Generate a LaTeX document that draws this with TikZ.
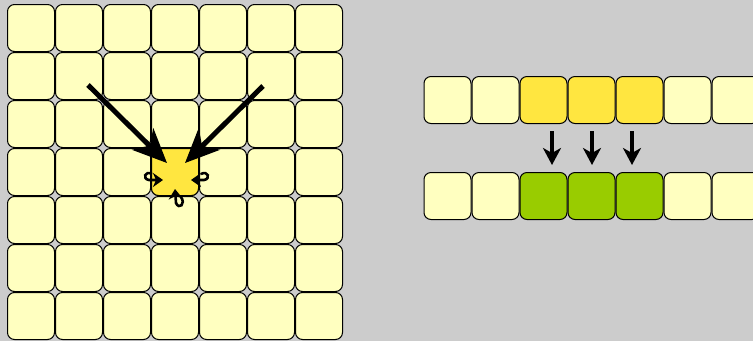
\documentclass[tikz,border=0pt]{standalone}
\usetikzlibrary{arrows.meta}
\definecolor{bg}{HTML}{CCCCCC}
\definecolor{cellpale}{HTML}{FFFFC0}
\definecolor{cellyellow}{HTML}{FFE640}
\definecolor{cellgreen}{HTML}{99CC00}
\tikzset{
  cell/.style={draw=black, line width=1pt, rounded corners=7pt, minimum size=47pt, inner sep=0pt, fill=cellpale},
  hot/.style={cell, fill=cellyellow},
  done/.style={cell, fill=cellgreen},
  bigarrow/.style={line width=5pt, -{Stealth[length=34pt,width=30pt,inset=10pt]}},
  midarrow/.style={line width=3.5pt, -{Stealth[length=17pt,width=18pt,inset=5pt]}},
  curl/.style={line width=2.6pt, -{Stealth[length=10pt,width=14pt,inset=3pt]}}
}
\begin{document}
\begin{tikzpicture}[x=1pt,y=-1pt]
\fill[bg] (0,0) rectangle (753,341);
\useasboundingbox (0,0) rectangle (753,341);
% grid
\foreach \r in {0,...,6}{
  \foreach \c in {0,...,6}{
    \node[cell] (g-\r-\c) at ({31+48*\c},{28+48*\r}) {};
  }
}
\node[hot] (center) at (175,172) {};
% right rows
\foreach \k in {0,...,6}{
  \pgfmathtruncatemacro{\ishot}{(\k>1)&&(\k<5)}
  \ifnum\ishot=1
    \node[hot] (a-\k) at ({447.5+48*\k},100) {};
    \node[done] (b-\k) at ({447.5+48*\k},196) {};
  \else
    \node[cell] (a-\k) at ({447.5+48*\k},100) {};
    \node[cell] (b-\k) at ({447.5+48*\k},196) {};
  \fi
}
% big arrows
\coordinate (t1) at (88,85);
\coordinate (h1) at (167,163);
\coordinate (t2) at (263,86);
\coordinate (h2) at (185,163);
\draw[bigarrow] (t1) -- (h1);
\draw[bigarrow] (t2) -- (h2);
% curls
\coordinate (cl) at (163,180);
\coordinate (cr) at (191,180);
\coordinate (cb) at (175,189);
\draw[curl] (152,174) .. controls (145,170) and (142,179) .. (149,180) -- (cl);
\draw[curl] (201,174) .. controls (208,170) and (211,179) .. (204,180) -- (cr);
\draw[curl] (181,197) .. controls (186,204) and (179,210) .. (176,203) -- (cb);
% middle arrows
\foreach \x [count=\i] in {552,592,632}{
  \coordinate (s\i) at (\x,131);
  \coordinate (e\i) at (\x,165);
  \draw[midarrow] (s\i) -- (e\i);
}
\end{tikzpicture}
\end{document}
